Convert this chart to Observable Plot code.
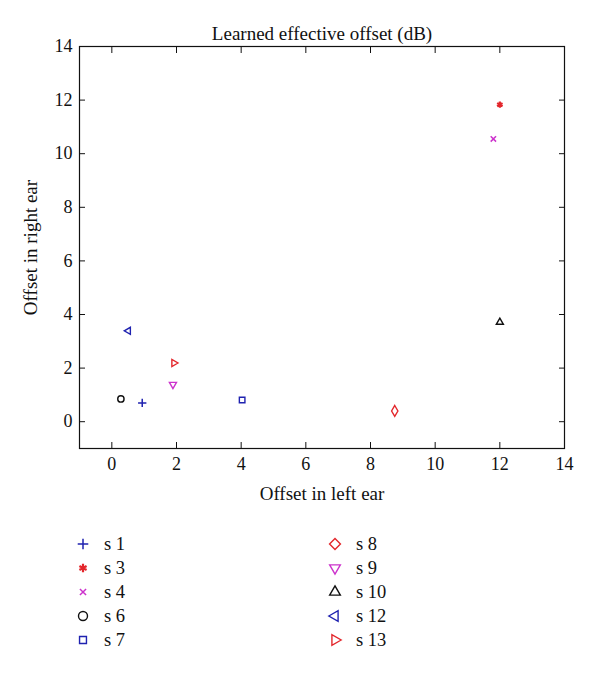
<!DOCTYPE html>
<html>
<head>
<meta charset="utf-8">
<script src="https://cdn.jsdelivr.net/npm/d3@7"></script>
<script src="https://cdn.jsdelivr.net/npm/@observablehq/plot@0.6"></script>
<style>
  body { margin: 0; background: #fff; font-family: "Liberation Serif", "DejaVu Serif", serif; }
  #wrap { position: relative; width: 600px; height: 674px; }
  #legend { position: absolute; left: 74px; top: 532px; display: grid;
    grid-template-columns: 252px 200px; grid-template-rows: repeat(5, 24px); grid-auto-flow: column; }
  .item { display: flex; align-items: center; font-size: 18.5px; color: #111; }
  .item svg { margin-right: 12px; }
</style>
</head>
<body>
<div id="wrap"><div id="chart"></div><div id="legend"></div></div>
<script>
// ---- data ----
const subjects = ["s 1", "s 3", "s 4", "s 6", "s 7", "s 8", "s 9", "s 10", "s 12", "s 13"];
const leftEar  = [0.94, 12.0, 11.8, 0.28, 4.03, 8.75, 1.89, 12.0, 0.51, 1.92];
const rightEar = [0.70, 11.83, 10.55, 0.85, 0.81, 0.40, 1.39, 3.71, 3.39, 2.19];
const xTicks = [0, 2, 4, 6, 8, 10, 12, 14];
const yTicks = [0, 2, 4, 6, 8, 10, 12, 14];
const titleText = "Learned effective offset (dB)";
const xLabel = "Offset in left ear";
const yLabel = "Offset in right ear";

// ---- styles ----
const blue = "#1f22b0", red = "#e3262b", magenta = "#cc33cc", black = "#111";
const styleBy = {
  "s 1":  {symbol: "plus",      color: blue,    rotate: 0,   r: 3.5, sw: 1.5},
  "s 3":  {symbol: "asterisk",  color: red,     rotate: 0,   r: 3.9, sw: 2.2},
  "s 4":  {symbol: "times",     color: magenta, rotate: 0,   r: 2.9, sw: 1.5},
  "s 6":  {symbol: "circle",    color: black,   rotate: 0,   r: 4.5, sw: 1.4},
  "s 7":  {symbol: "square",    color: blue,    rotate: 0,   r: 4.4, sw: 1.4},
  "s 8":  {symbol: "diamond",   color: red,     rotate: 0,   r: 4.9, sw: 1.4},
  "s 9":  {symbol: "triangle2", color: magenta, rotate: 180, r: 5.1, sw: 1.4},
  "s 10": {symbol: "triangle2", color: black,   rotate: 0,   r: 5.1, sw: 1.4},
  "s 12": {symbol: "triangle2", color: blue,    rotate: -90, r: 5.1, sw: 1.4},
  "s 13": {symbol: "triangle2", color: red,     rotate: 90,  r: 5.1, sw: 1.4}
};
const d3sym = {plus: d3.symbolPlus, asterisk: d3.symbolAsterisk, times: d3.symbolTimes,
  circle: d3.symbolCircle, square: d3.symbolSquare2, diamond: d3.symbolDiamond2, triangle2: d3.symbolTriangle2};

const rows = subjects.map((s, i) => ({subject: s, left: leftEar[i], right: rightEar[i]}));

const font = "Liberation Serif, DejaVu Serif, serif";
const fs = 18;
const chart = Plot.plot({
  width: 600, height: 510,
  marginLeft: 79, marginRight: 36, marginTop: 46, marginBottom: 62,
  style: {fontFamily: font, fontSize: "18px", color: "#111", background: "#fff", overflow: "visible"},
  x: {domain: [-1, 14]},
  y: {domain: [-1, 14]},
  symbol: {domain: subjects, range: subjects.map(s => styleBy[s].symbol)},
  color: {domain: subjects, range: subjects.map(s => styleBy[s].color)},
  marks: [
    Plot.frame({stroke: "#111", strokeWidth: 1.2}),
    Plot.axisX({ticks: xTicks, tickSize: 0, tickPadding: 9, fontSize: fs, label: null}),
    Plot.axisX({ticks: xTicks, tickSize: -6, tickFormat: () => "", label: null}),
    Plot.axisX({anchor: "top", ticks: xTicks, tickSize: -6, tickFormat: () => "", label: null}),
    Plot.axisY({ticks: yTicks, tickSize: 0, tickPadding: 7, fontSize: fs, label: null}),
    Plot.axisY({ticks: yTicks, tickSize: -6, tickFormat: () => "", label: null}),
    Plot.axisY({anchor: "right", ticks: yTicks, tickSize: -6, tickFormat: () => "", label: null}),
    Plot.text([titleText], {frameAnchor: "top", lineAnchor: "middle", dy: -13, fontSize: 19}),
    Plot.text([xLabel], {frameAnchor: "bottom", textAnchor: "middle", lineAnchor: "middle", dy: 45, fontSize: 19}),
    Plot.text([yLabel], {frameAnchor: "left", textAnchor: "middle", lineAnchor: "middle", rotate: -90, dx: -49, fontSize: 19}),
    Plot.dot(rows, {x: "left", y: "right", symbol: "subject", stroke: "subject",
      rotate: d => styleBy[d.subject].rotate, r: d => styleBy[d.subject].r,
      strokeWidth: d => styleBy[d.subject].sw, fill: "none"})
  ]
});
document.getElementById("chart").appendChild(chart);

// ---- legend ----
const leg = document.getElementById("legend");
subjects.forEach(s => {
  const st = styleBy[s];
  const item = document.createElement("div");
  item.className = "item";
  const p = d3.symbol(d3sym[st.symbol], Math.PI * st.r * st.r)();
  item.innerHTML = `<svg width="18" height="18" viewBox="-9 -9 18 18"><path d="${p}" transform="rotate(${st.rotate})" fill="none" stroke="${st.color}" stroke-width="${st.sw}"/></svg><span>${s}</span>`;
  leg.appendChild(item);
});
</script>
</body>
</html>
